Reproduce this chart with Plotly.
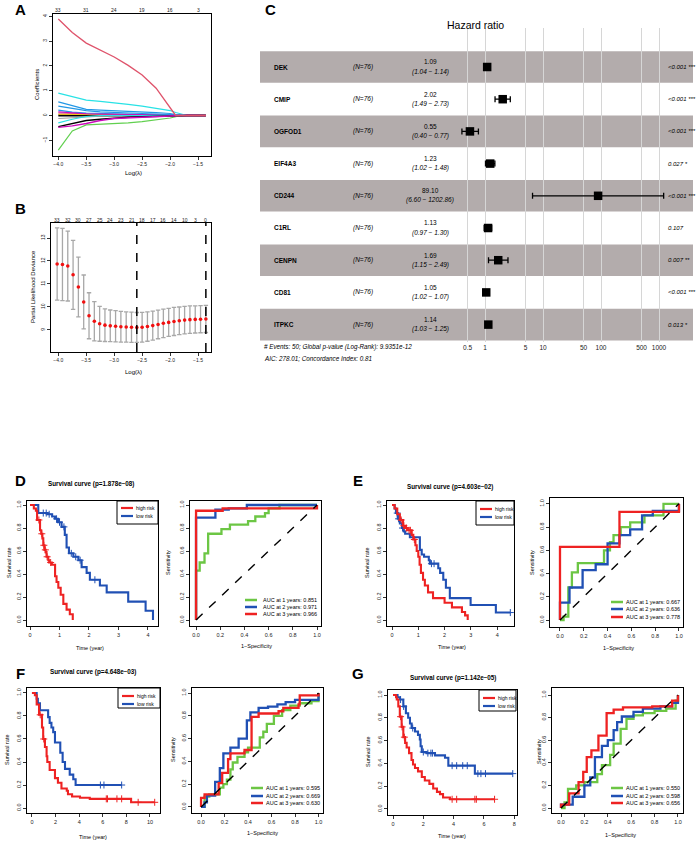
import plotly.graph_objects as go

W, H = 699, 841
FONT = "Liberation Sans, Arial, Helvetica, sans-serif"

# ======================= DATA =======================
# ---- Panel A: LASSO coefficient paths ----
lasso_loglam = [-4.0, -3.75, -3.5, -3.25, -3.0, -2.75, -2.5, -2.25, -2.0, -1.9, -1.8, -1.7, -1.36]
coef_red      = [3.89, 3.35, 2.92, 2.65, 2.36, 2.02, 1.63, 1.10, 0.30, 0.0, 0.0, 0.0, 0.0]
coef_cyan     = [0.90, 0.75, 0.62, 0.57, 0.52, 0.45, 0.38, 0.30, 0.20, 0.12, 0.05, 0.0, 0.0]
coef_blue1    = [0.55, 0.40, 0.25, 0.22, 0.20, 0.17, 0.15, 0.12, 0.08, 0.03, 0.0, 0.0, 0.0]
coef_blue2    = [0.38, 0.28, 0.20, 0.15, 0.12, 0.10, 0.08, 0.06, 0.04, 0.02, 0.0, 0.0, 0.0]
coef_blue3    = [0.22, 0.14, 0.10, 0.08, 0.06, 0.05, 0.04, 0.03, 0.02, 0.0, 0.0, 0.0, 0.0]
coef_magenta1 = [0.15, 0.10, 0.07, 0.06, 0.05, 0.04, 0.03, 0.02, 0.01, 0.0, 0.0, 0.0, 0.0]
coef_pink     = [0.10, 0.08, 0.06, 0.05, 0.04, 0.03, 0.02, 0.01, 0.0, 0.0, 0.0, 0.0, 0.0]
coef_yellow   = [0.05, 0.04, 0.03, 0.02, 0.01, 0.0, 0.0, 0.0, 0.0, 0.0, 0.0, 0.0, 0.0]
coef_green    = [-1.40, -0.62, -0.38, -0.36, -0.34, -0.30, -0.25, -0.18, -0.10, -0.05, 0.0, 0.0, 0.0]
coef_cyan2    = [-0.30, -0.15, -0.04, 0.0, 0.0, 0.0, 0.0, 0.0, 0.0, 0.0, 0.0, 0.0, 0.0]
coef_grey     = [-0.12, -0.08, -0.05, -0.03, -0.02, -0.01, 0.0, 0.0, 0.0, 0.0, 0.0, 0.0, 0.0]
coef_black    = [-0.45, -0.33, -0.20, -0.15, -0.10, -0.07, -0.05, -0.03, -0.02, -0.01, 0.0, 0.0, 0.0]
coef_magenta2 = [-0.48, -0.42, -0.32, -0.20, -0.12, -0.09, -0.06, -0.04, -0.02, -0.01, 0.0, 0.0, 0.0]
coef_zero     = [0.0] * 13
lasso_top_pos = [-4.0, -3.5, -3.0, -2.5, -2.0, -1.5]
lasso_top_labels = ["33", "31", "24", "19", "16", "3"]
loglam_ticks = [-4.0, -3.5, -3.0, -2.5, -2.0, -1.5]
loglam_ticktext = ["\u22124.0", "\u22123.5", "\u22123.0", "\u22122.5", "\u22122.0", "\u22121.5"]

# ---- Panel B: cross-validation ----
cv_loglam = [-4.02, -3.925, -3.83, -3.735, -3.64, -3.545, -3.45, -3.355, -3.26, -3.165,
             -3.07, -2.975, -2.88, -2.785, -2.69, -2.595, -2.5, -2.405, -2.31, -2.215,
             -2.12, -2.025, -1.93, -1.835, -1.74, -1.645, -1.55, -1.455, -1.36]
cv_dev = [11.87, 11.85, 11.78, 11.40, 10.87, 10.22, 9.62, 9.38, 9.27, 9.21,
          9.18, 9.16, 9.14, 9.13, 9.12, 9.11, 9.12, 9.15, 9.19, 9.24,
          9.29, 9.33, 9.37, 9.40, 9.43, 9.45, 9.46, 9.47, 9.48]
cv_se = [1.57, 1.57, 1.52, 1.50, 1.30, 1.17, 1.00, 0.85, 0.76, 0.71,
         0.69, 0.68, 0.67, 0.66, 0.66, 0.65, 0.65, 0.64, 0.63, 0.62,
         0.62, 0.61, 0.61, 0.60, 0.60, 0.60, 0.59, 0.59, 0.59]
cv_top_labels = ["33", "32", "30", "27", "25", "24", "23", "21", "18", "17", "16", "14", "10", "3", "0"]
cv_lambda_min = -2.595
cv_lambda_1se = -1.36

# ---- Panel C: forest plot ----
genes = ["DEK", "CMIP", "OGFOD1", "EIF4A3", "CD244", "C1RL", "CENPN", "CD81", "ITPKC"]
hr = [1.09, 2.02, 0.55, 1.23, 89.10, 1.13, 1.69, 1.05, 1.14]
hr_lo = [1.04, 1.49, 0.40, 1.02, 6.60, 0.97, 1.15, 1.02, 1.03]
hr_hi = [1.14, 2.73, 0.77, 1.48, 1202.86, 1.30, 2.49, 1.07, 1.25]
pvals = ["<0.001 ***", "<0.001 ***", "<0.001 ***", "0.027 *", "<0.001 ***", "0.107", "0.007 **", "<0.001 ***", "0.013 *"]
forest_ticks = [0.5, 1, 5, 10, 50, 100, 500, 1000]
forest_ticktext = ["0.5", "1", "5", "10", "50", "100", "500", "1000"]
forest_footer1 = "# Events: 50; Global p-value (Log-Rank): 9.9351e-12"
forest_footer2 = "AIC: 278.01; Concordance Index: 0.81"

# ---- Panel D ----
D_high_t = [0, 0.13, 0.2, 0.24, 0.34, 0.38, 0.42, 0.45, 0.49, 0.53, 0.56, 0.62, 0.65, 0.74, 0.85, 0.9, 0.96, 1.04, 1.13, 1.24, 1.35, 1.45]
D_high_s = [1.0, 0.97, 0.95, 0.87, 0.78, 0.75, 0.71, 0.65, 0.61, 0.59, 0.55, 0.52, 0.5, 0.48, 0.38, 0.33, 0.28, 0.22, 0.14, 0.09, 0.05, 0.0]
D_high_cens = [0.3, 0.4, 0.47, 0.52, 0.58, 0.7]
D_low_t = [0, 0.28, 0.6, 0.75, 0.85, 0.95, 1.07, 1.18, 1.24, 1.32, 1.47, 1.64, 1.75, 1.92, 2.03, 2.37, 2.6, 3.33, 3.92, 4.17]
D_low_s = [1.0, 0.93, 0.92, 0.9, 0.88, 0.85, 0.81, 0.74, 0.63, 0.58, 0.55, 0.52, 0.46, 0.41, 0.35, 0.3, 0.24, 0.16, 0.08, 0.0]
D_low_cens = [0.45, 0.55, 0.65, 0.9, 1.0, 1.15, 1.4, 1.55, 1.7, 2.2]
D_roc1_f = [0, 0, 0.03, 0.07, 0.1, 0.21, 0.28, 0.43, 0.49, 0.57, 0.6, 0.69, 1.0]
D_roc1_t = [0, 0.43, 0.5, 0.58, 0.75, 0.79, 0.83, 0.86, 0.9, 0.93, 0.97, 1.0, 1.0]
D_roc2_f = [0, 0, 0.16, 0.27, 0.42, 1.0]
D_roc2_t = [0, 0.89, 0.96, 0.97, 1.0, 1.0]
D_roc3_f = [0, 0, 0.22, 1.0]
D_roc3_t = [0, 0.95, 0.97, 1.0]
D_auc = ["0.851", "0.971", "0.966"]
D_p = "1.878e\u221208"

# ---- Panel E ----
E_high_t = [0, 0.1, 0.2, 0.3, 0.42, 0.5, 0.6, 0.75, 0.81, 0.89, 0.94, 1.0, 1.05, 1.1, 1.18, 1.25, 1.37, 1.56, 2.0, 2.28, 2.66, 2.78, 2.88]
E_high_s = [1.0, 0.97, 0.92, 0.87, 0.82, 0.8, 0.78, 0.74, 0.7, 0.65, 0.6, 0.55, 0.48, 0.41, 0.35, 0.3, 0.24, 0.19, 0.15, 0.11, 0.07, 0.04, 0.0]
E_high_cens = [0.35, 0.45, 0.55, 0.65, 0.7, 0.85]
E_low_t = [0, 0.1, 0.15, 0.22, 0.3, 0.38, 0.45, 0.5, 0.68, 1.06, 1.13, 1.22, 1.4, 1.44, 1.76, 1.83, 1.95, 2.05, 2.2, 2.99, 3.95, 4.5]
E_low_s = [1.0, 0.97, 0.93, 0.88, 0.84, 0.8, 0.77, 0.75, 0.72, 0.61, 0.57, 0.55, 0.52, 0.49, 0.45, 0.41, 0.35, 0.28, 0.19, 0.13, 0.065, 0.065]
E_low_cens = [0.2, 0.25, 0.4, 1.5, 1.6, 4.5]
E_roc1_f = [0, 0.03, 0.07, 0.1, 0.15, 0.37, 0.42, 0.45, 0.51, 0.59, 0.71, 0.87, 1.0]
E_roc1_t = [0, 0.03, 0.28, 0.41, 0.49, 0.6, 0.67, 0.73, 0.8, 0.84, 0.9, 1.0, 1.0]
E_roc2_f = [0, 0, 0.08, 0.19, 0.3, 0.4, 0.5, 0.59, 0.69, 0.78, 1.0]
E_roc2_t = [0, 0.15, 0.28, 0.43, 0.48, 0.66, 0.73, 0.78, 0.9, 0.94, 1.0]
E_roc3_f = [0, 0, 0.5, 1.0]
E_roc3_t = [0, 0.63, 0.93, 1.0]
E_auc = ["0.667", "0.636", "0.778"]
E_p = "4.603e\u221202"

# ---- Panel F ----
F_high_t = [0, 0.25, 0.4, 0.6, 0.85, 0.95, 1.1, 1.24, 1.3, 1.5, 1.95, 2.2, 2.5, 2.95, 3.05, 3.4, 4.07, 4.9, 8.4, 10.4]
F_high_s = [1.0, 0.98, 0.9, 0.81, 0.7, 0.6, 0.53, 0.45, 0.4, 0.33, 0.26, 0.22, 0.17, 0.15, 0.12, 0.1, 0.09, 0.08, 0.05, 0.05]
F_high_cens = [0.7, 1.0, 6.3, 6.4, 7.2, 7.6, 9.0, 10.4]
F_low_t = [0, 0.4, 0.5, 0.68, 1.37, 1.5, 1.65, 1.8, 1.95, 2.4, 2.6, 2.8, 3.2, 3.5, 3.7, 7.6]
F_low_s = [1.0, 0.95, 0.91, 0.85, 0.79, 0.74, 0.7, 0.66, 0.57, 0.48, 0.4, 0.34, 0.29, 0.25, 0.2, 0.2]
F_low_cens = [5.8, 6.1, 7.6]
F_roc1_f = [0, 0.03, 0.07, 0.16, 0.19, 0.22, 0.25, 0.27, 0.31, 0.37, 0.4, 0.5, 0.53, 0.56, 0.62, 0.69, 0.76, 0.84, 0.94, 1.0]
F_roc1_t = [0, 0.09, 0.11, 0.17, 0.2, 0.24, 0.33, 0.39, 0.44, 0.48, 0.52, 0.61, 0.66, 0.73, 0.8, 0.85, 0.89, 0.91, 0.93, 1.0]
F_roc2_f = [0, 0.03, 0.05, 0.12, 0.16, 0.19, 0.25, 0.32, 0.39, 0.42, 0.49, 0.57, 0.65, 0.72, 0.8, 1.0]
F_roc2_t = [0, 0.04, 0.1, 0.22, 0.34, 0.47, 0.52, 0.6, 0.76, 0.83, 0.87, 0.88, 0.9, 0.92, 0.94, 1.0]
F_roc3_f = [0, 0, 0.03, 0.15, 0.18, 0.23, 0.25, 0.37, 0.43, 0.49, 0.66, 0.7, 0.83, 0.84, 1.0]
F_roc3_t = [0, 0.08, 0.11, 0.21, 0.3, 0.42, 0.47, 0.5, 0.79, 0.82, 0.84, 0.87, 0.9, 0.98, 1.0]
F_auc = ["0.595", "0.669", "0.630"]
F_p = "4.648e\u221203"

# ---- Panel G ----
G_high_t = [0, 0.2, 0.25, 0.35, 0.45, 0.57, 0.68, 0.8, 0.9, 1.06, 1.22, 1.32, 1.45, 1.65, 1.9, 2.1, 2.4, 2.65, 2.9, 3.1, 3.3, 3.76, 6.7]
G_high_s = [1.0, 0.98, 0.96, 0.9, 0.81, 0.72, 0.63, 0.58, 0.54, 0.49, 0.43, 0.39, 0.36, 0.33, 0.28, 0.25, 0.22, 0.18, 0.15, 0.13, 0.1, 0.085, 0.085]
G_high_cens = [0.5, 0.6, 0.75, 3.9, 4.2, 5.4, 5.5, 6.7]
G_low_t = [0, 0.3, 0.45, 0.68, 0.85, 1.0, 1.12, 1.23, 1.45, 1.65, 1.77, 1.82, 1.9, 2.22, 2.77, 3.43, 3.65, 5.4, 7.9]
G_low_s = [1.0, 0.98, 0.96, 0.9, 0.84, 0.8, 0.75, 0.71, 0.68, 0.65, 0.61, 0.55, 0.5, 0.49, 0.47, 0.45, 0.38, 0.31, 0.31]
G_low_cens = [0.5, 0.7, 1.3, 2.0, 2.3, 2.5, 2.6, 3.9, 4.2, 4.6, 4.9, 5.6, 5.8, 6.1, 7.9]
G_roc1_f = [0, 0.03, 0.06, 0.13, 0.2, 0.31, 0.35, 0.42, 0.45, 0.51, 0.56, 0.62, 0.7, 0.8, 0.9, 0.98, 1.0]
G_roc1_t = [0, 0.05, 0.17, 0.2, 0.23, 0.3, 0.38, 0.47, 0.57, 0.7, 0.79, 0.82, 0.84, 0.86, 0.88, 0.95, 1.0]
G_roc2_f = [0, 0, 0.1, 0.2, 0.25, 0.29, 0.35, 0.4, 0.45, 0.48, 0.52, 0.62, 0.7, 0.85, 0.95, 1.0]
G_roc2_t = [0, 0.03, 0.1, 0.2, 0.27, 0.45, 0.55, 0.6, 0.69, 0.76, 0.81, 0.85, 0.88, 0.9, 0.93, 1.0]
G_roc3_f = [0, 0, 0.07, 0.15, 0.19, 0.22, 0.26, 0.32, 0.39, 0.45, 0.53, 0.78, 0.95, 1.0]
G_roc3_t = [0, 0.03, 0.13, 0.23, 0.32, 0.45, 0.51, 0.64, 0.84, 0.87, 0.89, 0.9, 0.95, 1.0]
G_auc = ["0.550", "0.598", "0.656"]
G_p = "1.142e\u221205"

prob_ticks = [0, 0.2, 0.4, 0.6, 0.8, 1.0]
prob_ticktext = ["0.0", "0.2", "0.4", "0.6", "0.8", "1.0"]

# ======================= STYLE / HELPERS =======================
C_RED = "#EE2222"
C_BLUE = "#2050B4"
C_GREEN = "#6CC644"
R_PAL = {"black": "#000000", "red": "#DF536B", "green": "#61D04F", "blue": "#2297E6",
         "cyan": "#28E2E5", "magenta": "#CD0BBC", "yellow": "#F5C710", "grey": "#9E9E9E"}

fig = go.Figure()
annotations = []
shapes = []
layout_axes = {}


def P(x, y):
    return x / W, 1 - y / H


def add_text(x, y, s, size=6, xa="center", ya="middle", angle=0, color="black"):
    px_, py_ = P(x, y)
    annotations.append(dict(x=px_, y=py_, xref="paper", yref="paper", text=s, showarrow=False,
                            xanchor=xa, yanchor=ya, textangle=angle, borderpad=0,
                            font=dict(family=FONT, size=size, color=color)))


def add_seg(x0, y0, x1, y1, color="black", width=1, dash="solid"):
    a, b = P(x0, y0)
    c, d = P(x1, y1)
    shapes.append(dict(type="line", xref="paper", yref="paper", x0=a, y0=b, x1=c, y1=d,
                       line=dict(color=color, width=width, dash=dash)))


def add_rect(x0, y0, x1, y1, color="black", width=1):
    a, b = P(x0, y0)
    c, d = P(x1, y1)
    shapes.append(dict(type="rect", xref="paper", yref="paper", x0=a, y0=d, x1=c, y1=b,
                       line=dict(color=color, width=width), fillcolor="white", layer="above"))


n_axes = [0]


def make_axes(box, xr, yr, xtv=None, xtt=None, ytv=None, ytt=None, tick_size=5.5):
    n_axes[0] += 1
    n = n_axes[0]
    sx = "" if n == 1 else str(n)
    x0, y0, x1, y1 = box
    common = dict(showline=True, mirror=True, linecolor="black", linewidth=1,
                  ticks="outside", ticklen=3, tickwidth=0.8, tickcolor="black",
                  showgrid=False, zeroline=False, fixedrange=True,
                  tickfont=dict(family=FONT, size=tick_size, color="#222222"))
    layout_axes["xaxis" + sx] = dict(common, domain=[x0 / W, x1 / W], range=xr, anchor="y" + sx,
                                     tickmode="array", tickvals=xtv, ticktext=xtt)
    layout_axes["yaxis" + sx] = dict(common, domain=[1 - y1 / H, 1 - y0 / H], range=yr, anchor="x" + sx,
                                     tickmode="array", tickvals=ytv, ticktext=ytt, tickangle=-90)
    return "x" + sx, "y" + sx


def line_trace(x, y, xa, ya, color, width=1.2, shape="linear", dash="solid"):
    fig.add_trace(go.Scatter(x=x, y=y, xaxis=xa, yaxis=ya, mode="lines",
                             line=dict(color=color, width=width, shape=shape, dash=dash),
                             hoverinfo="skip", showlegend=False))


def step_at(ts, ss, t):
    v = ss[0]
    for ti, si in zip(ts, ss):
        if ti <= t:
            v = si
    return v


# ======================= PANEL A =======================
xa, ya = make_axes((53, 14, 211, 156), [-4.095, -1.268], [-1.633, 4.093],
                   loglam_ticks, loglam_ticktext, [-1, 0, 1, 2, 3, 4], ["\u22121", "0", "1", "2", "3", "4"], 5)
paths = [(coef_zero, R_PAL["black"], 2.2), (coef_yellow, R_PAL["yellow"], 1.2), (coef_grey, R_PAL["grey"], 1.2),
         (coef_pink, R_PAL["red"], 1.2), (coef_blue3, R_PAL["blue"], 1.2), (coef_magenta1, R_PAL["magenta"], 1.2),
         (coef_blue2, R_PAL["blue"], 1.2), (coef_blue1, R_PAL["blue"], 1.2), (coef_cyan2, R_PAL["cyan"], 1.2),
         (coef_cyan, R_PAL["cyan"], 1.2), (coef_green, R_PAL["green"], 1.2), (coef_black, R_PAL["black"], 1.4),
         (coef_magenta2, R_PAL["magenta"], 1.4), (coef_red, R_PAL["red"], 1.3)]
for vals, col, wd in paths:
    line_trace(lasso_loglam, vals, xa, ya, col, wd)
for pos, lab in zip(lasso_top_pos, lasso_top_labels):
    annotations.append(dict(x=pos, y=1 - 5 / H, xref=xa, yref="paper", text=lab, showarrow=False,
                            font=dict(family=FONT, size=5, color="#222222")))
add_text(133, 173, "Log(\u03bb)", 6)
add_text(37, 85, "Coefficients", 6, angle=-90)
add_text(20, 9, "<b>A</b>", 15)

# ======================= PANEL B =======================
xb, yb = make_axes((51, 223, 211, 352), [-4.13, -1.268], [8.043, 13.652],
                   loglam_ticks, loglam_ticktext, [9, 10, 11, 12, 13], ["9", "10", "11", "12", "13"], 5)
fig.add_trace(go.Scatter(x=cv_loglam, y=cv_dev, xaxis=xb, yaxis=yb, mode="markers",
                         marker=dict(color="#F01010", size=3.6),
                         error_y=dict(type="data", array=cv_se, color="#A8A8A8", thickness=1.3, width=2.2),
                         hoverinfo="skip", showlegend=False))
for lv in (cv_lambda_min, cv_lambda_1se):
    shapes.append(dict(type="line", xref=xb, yref=yb + " domain", x0=lv, x1=lv, y0=0, y1=1,
                       line=dict(color="black", width=1.5, dash="dash")))
for pos, lab in zip(cv_loglam[0::2], cv_top_labels):
    annotations.append(dict(x=pos, y=1 - 215 / H, xref=xb, yref="paper", text=lab, showarrow=False,
                            font=dict(family=FONT, size=5, color="#222222")))
add_text(133, 372, "Log(\u03bb)", 6)
add_text(33, 287, "Partial Likelihood Deviance", 6, angle=-90)
add_text(20, 208, "<b>B</b>", 15)

# ======================= PANEL C (forest) =======================
n_axes[0] += 1
xc, yc = "x3", "y3"
layout_axes["xaxis3"] = dict(domain=[260 / W, 693 / W], range=[-3.879, 3.586], type="log", anchor="y3",
                             showgrid=True, gridcolor="#d6d6d6", gridwidth=1, zeroline=False, showline=False,
                             ticks="", tickmode="array", tickvals=forest_ticks, ticktext=forest_ticktext,
                             tickfont=dict(family=FONT, size=6.5, color="#222222"), fixedrange=True)
layout_axes["yaxis3"] = dict(domain=[1 - 342 / H, 1 - 28 / H], range=[8.54, -1.211], anchor="x3",
                             visible=False, fixedrange=True)
for i in range(len(genes)):
    if i % 2 == 0:
        shapes.append(dict(type="rect", xref="paper", yref=yc, x0=260 / W, x1=693 / W,
                           y0=i - 0.49, y1=i + 0.49, fillcolor="#b3acac", line=dict(width=0), layer="below"))
shapes.append(dict(type="line", xref=xc, yref=yc + " domain", x0=0, x1=0, y0=0, y1=1,
                   line=dict(color="black", width=1.6, dash="dot")))
fig.add_trace(go.Scatter(x=hr, y=list(range(len(genes))), xaxis=xc, yaxis=yc, mode="markers",
                         marker=dict(symbol="square", size=8.5, color="black"),
                         error_x=dict(type="data", symmetric=False,
                                      array=[h - r for h, r in zip(hr_hi, hr)],
                                      arrayminus=[r - l for r, l in zip(hr, hr_lo)],
                                      color="black", thickness=1.3, width=3),
                         hoverinfo="skip", showlegend=False))
for i, g in enumerate(genes):
    cy = 67 + 32.2 * i
    add_text(273, cy, "<b>" + g + "</b>", 6.5, xa="left")
    add_text(352, cy, "<i>(N=76)</i>", 6.5, xa="left")
    add_text(430, cy - 5, f"{hr[i]:.2f}", 6.5)
    add_text(430, cy + 4.5, f"<i>({hr_lo[i]:.2f} \u2212 {hr_hi[i]:.2f})</i>", 6.5)
    add_text(667, cy, "<i>" + pvals[i] + "</i>", 6, xa="left")
add_text(475, 25, "Hazard ratio", 10.5)
add_text(263, 347, "<i>" + forest_footer1 + "</i>", 6.3, xa="left")
add_text(263, 358, "<i>" + forest_footer2 + "</i>", 6.3, xa="left")
add_text(270, 9, "<b>C</b>", 15)

# ======================= PANELS D-G =======================
panels = [
    dict(lab="D", labpos=(20, 480), p=D_p, title=(91, 484),
         km_box=(27, 501, 158, 626), km_xr=[-0.102, 4.34], km_yr=[-0.052, 1.035], km_xt=[0, 1, 2, 3, 4],
         roc_box=(190, 501, 321, 626), roc_xr=[-0.05, 1.033], roc_yr=[-0.052, 1.035],
         high=(D_high_t, D_high_s, D_high_cens), low=(D_low_t, D_low_s, D_low_cens),
         rocs=[(D_roc1_f, D_roc1_t), (D_roc2_f, D_roc2_t), (D_roc3_f, D_roc3_t)], auc=D_auc,
         kmleg=(117, 501, 158, 524, 508, 516), rocleg=(245, 262, [600, 607, 614]),
         ytitle_km=(9, 563), xtitle_km=(90, 648), ytitle_roc=(168, 563), xtitle_roc=(256, 646)),
    dict(lab="E", labpos=(358, 480), p=E_p, title=(450, 487),
         km_box=(387, 501, 514, 626), km_xr=[-0.19, 4.64], km_yr=[-0.052, 1.035], km_xt=[0, 1, 2, 3, 4],
         roc_box=(550, 498, 683, 627), roc_xr=[-0.084, 1.034], roc_yr=[-0.06, 1.05],
         high=(E_high_t, E_high_s, E_high_cens), low=(E_low_t, E_low_s, E_low_cens),
         rocs=[(E_roc1_f, E_roc1_t), (E_roc2_f, E_roc2_t), (E_roc3_f, E_roc3_t)], auc=E_auc,
         kmleg=(476, 501, 514, 525, 509, 517), rocleg=(611, 625, [602, 609, 617]),
         ytitle_km=(367, 563), xtitle_km=(452, 647), ytitle_roc=(532, 563), xtitle_roc=(618, 648)),
    dict(lab="F", labpos=(20, 673), p=F_p, title=(93, 672),
         km_box=(27, 688, 160, 813), km_xr=[-0.42, 10.85], km_yr=[-0.043, 1.043], km_xt=[0, 2, 4, 6, 8, 10],
         roc_box=(192, 688, 323, 813), roc_xr=[-0.077, 1.038], roc_yr=[-0.053, 1.044],
         high=(F_high_t, F_high_s, F_high_cens), low=(F_low_t, F_low_s, F_low_cens),
         rocs=[(F_roc1_f, F_roc1_t), (F_roc2_f, F_roc2_t), (F_roc3_f, F_roc3_t)], auc=F_auc,
         kmleg=(118, 688, 160, 708, 696, 704), rocleg=(251, 265, [788, 796, 803]),
         ytitle_km=(7, 750), xtitle_km=(93, 837), ytitle_roc=(173, 750), xtitle_roc=(262, 833)),
    dict(lab="G", labpos=(358, 673), p=G_p, title=(453, 678),
         km_box=(388, 690, 517, 815), km_xr=[-0.33, 8.18], km_yr=[-0.053, 1.044], km_xt=[0, 2, 4, 6, 8],
         roc_box=(552, 688, 683, 813), roc_xr=[-0.077, 1.043], roc_yr=[-0.044, 1.062],
         high=(G_high_t, G_high_s, G_high_cens), low=(G_low_t, G_low_s, G_low_cens),
         rocs=[(G_roc1_f, G_roc1_t), (G_roc2_f, G_roc2_t), (G_roc3_f, G_roc3_t)], auc=G_auc,
         kmleg=(479, 690, 516, 711, 698, 706), rocleg=(611, 625, [788, 796, 803]),
         ytitle_km=(368, 752), xtitle_km=(452, 836), ytitle_roc=(539, 752), xtitle_roc=(620, 835)),
]

roc_colors = [C_GREEN, C_BLUE, C_RED]
for pn in panels:
    # --- KM ---
    xk, yk = make_axes(pn["km_box"], pn["km_xr"], pn["km_yr"], pn["km_xt"], [str(v) for v in pn["km_xt"]],
                       prob_ticks, prob_ticktext)
    for (ts, ss, cens), col in ((pn["low"], C_BLUE), (pn["high"], C_RED)):
        line_trace(ts, ss, xk, yk, col, 2.1, "hv")
        fig.add_trace(go.Scatter(x=cens, y=[step_at(ts, ss, c) for c in cens], xaxis=xk, yaxis=yk,
                                 mode="markers",
                                 marker=dict(symbol="cross-thin", size=5, line=dict(color=col, width=1)),
                                 hoverinfo="skip", showlegend=False))
    lx0, ly0, lx1, ly1, e1, e2 = pn["kmleg"]
    add_rect(lx0, ly0, lx1, ly1)
    for yy, col, txt in ((e1, C_RED, "high risk"), (e2, C_BLUE, "low risk")):
        add_seg(lx0 + 4, yy, lx0 + 16, yy, col, 2.2)
        add_text(lx0 + 18, yy, txt, 5, xa="left")
    add_text(pn["ytitle_km"][0], pn["ytitle_km"][1], "Survival rate", 5.5, angle=-90)
    add_text(pn["xtitle_km"][0], pn["xtitle_km"][1], "Time (year)", 5.5)
    add_text(pn["title"][0], pn["title"][1], "<b>Survival curve (p=" + pn["p"] + ")</b>", 6.3)
    add_text(pn["labpos"][0], pn["labpos"][1], "<b>" + pn["lab"] + "</b>", 15)

    # --- ROC ---
    xr_, yr_ = make_axes(pn["roc_box"], pn["roc_xr"], pn["roc_yr"], prob_ticks, prob_ticktext,
                         prob_ticks, prob_ticktext)
    for (fv, tv), col in zip(pn["rocs"], roc_colors):
        line_trace(fv, tv, xr_, yr_, col, 2.3, "hv")
    line_trace([0, 1], [0, 1], xr_, yr_, "black", 1.4, dash="dash")
    segx0, tx, ys = pn["rocleg"]
    for k, (yy, col) in enumerate(zip(ys, roc_colors)):
        add_seg(segx0, yy, segx0 + 12, yy, col, 2.5)
        add_text(tx, yy, f"AUC at {k + 1} years: {pn['auc'][k]}", 5.5, xa="left")
    add_text(pn["ytitle_roc"][0], pn["ytitle_roc"][1], "Sensitivity", 5.5, angle=-90)
    add_text(pn["xtitle_roc"][0], pn["xtitle_roc"][1], "1\u2212Specificity", 5.5)

fig.update_layout(width=W, height=H, margin=dict(l=0, r=0, t=0, b=0),
                  paper_bgcolor="white", plot_bgcolor="white", showlegend=False,
                  annotations=annotations, shapes=shapes, **layout_axes)

fig.write_html("out.html", config={"displayModeBar": False, "staticPlot": True},
               post_script="document.body.style.margin='0';document.body.style.padding='0';"
                           "document.documentElement.style.overflow='hidden';")
